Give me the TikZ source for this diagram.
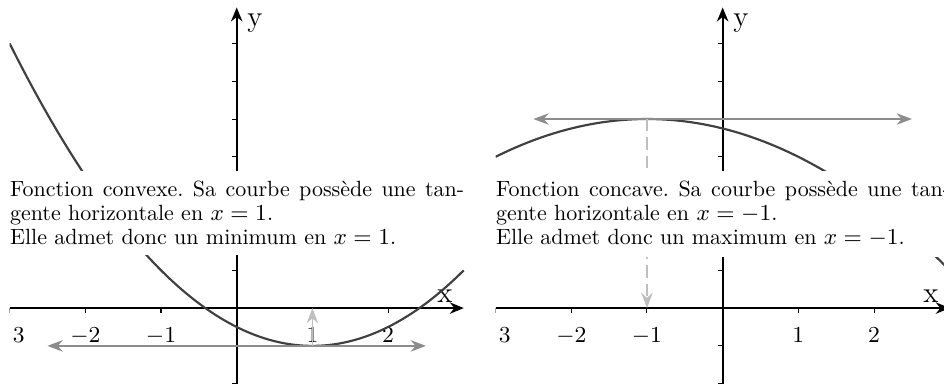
\documentclass[tikz,border=0pt]{standalone}
\usepackage{fontspec}
\newfontfamily\capfont{lmroman10-regular.otf}
\usetikzlibrary{arrows.meta}
\frenchspacing
\tikzset{
  axisline/.style={line width=0.8pt, -{Stealth[length=5.5pt,width=4.5pt]}},
  tickline/.style={line width=0.4pt},
  curveline/.style={line width=0.85pt, draw=black!75},
  tangent/.style={line width=0.6pt, draw=black!45, {Stealth[length=6pt,width=4.5pt]}-{Stealth[length=6pt,width=4.5pt]}},
  guide/.style={line width=0.65pt, draw=black!25, -{Stealth[length=6pt,width=4.5pt]}},
  dashguide/.style={guide, dash pattern=on 4.8pt off 2.4pt},
  ticklabel/.style={anchor=north, inner sep=1pt, yshift=-6.5pt, font=\fontsize{9}{11}\selectfont},
  axislabel/.style={anchor=base, inner sep=0pt, font=\fontsize{11.5}{14}\selectfont},
  caption/.style={anchor=north west, fill=white, inner sep=4pt, xshift=-4pt, text width=178.6pt, align=justify, font=\capfont\fontsize{8.65}{9.55}\selectfont\frenchspacing},
}
\begin{document}
\begin{tikzpicture}[x=29.77pt, y=14.87pt]
\clip (-3.127,-2.09) rectangle (9.344,8.148);
% ---------- left plot: convex ----------
\begin{scope}
  \clip (-3,-2.5) rectangle (3.6,8.5);
  \coordinate (lxs) at (-3,0);
  \coordinate (lxe) at (3,0);
  \coordinate (lys) at (0,-2);
  \coordinate (lye) at (0,7.95);
  \foreach \t in {-3,-2,-1,1,2} \draw[tickline] (\t,0) -- ++(0,-2pt);
  \foreach \t in {-2,-1,1,2,3,4,5,6,7} \draw[tickline] (0,\t) -- ++(-2pt,0);
  \draw[axisline] (lxs) -- (lxe);
  \draw[axisline] (lys) -- (lye);
  \begin{scope}
    \clip ([xshift=0.8pt]-3,-2) rectangle (-2.5,0);
    \node[ticklabel] (ltm3) at (-3,0) {$-3$};
  \end{scope}
  \foreach \t in {-2,-1,1,2} \node[ticklabel] (lt\t) at (\t,0) {$\t$};
  \node[axislabel] (lxl) at (2.75,0.16) {x};
  \node[axislabel] (lyl) at (0.24,7.46) {y};
  \draw[curveline] plot[domain=-3:3, samples=80, smooth] (\x, {0.5*(\x-1)^2-1});
  \coordinate (lta) at (-2.5,-1);
  \coordinate (ltb) at (2.5,-1);
  \coordinate (lmin) at (1,-1);
  \coordinate (lax) at (1,0);
  \draw[tangent] (lta) -- (ltb);
  \draw[guide] (lmin) -- (lax);
  \node[caption] (lcap) at (-3,3.651) {Fonction convexe. Sa courbe possède une tan-\linebreak gente horizontale en $x = 1$.\newline Elle admet donc un minimum en $x = 1$.};
\end{scope}
% ---------- right plot: concave ----------
\begin{scope}[shift={(6.42,0)}]
  \clip (-3,-2.5) rectangle (3.6,8.5);
  \coordinate (rxs) at (-3,0);
  \coordinate (rxe) at (3,0);
  \coordinate (rys) at (0,-2);
  \coordinate (rye) at (0,7.95);
  \foreach \t in {-3,-2,-1,1,2} \draw[tickline] (\t,0) -- ++(0,-2pt);
  \foreach \t in {-2,-1,1,2,3,4,5,6,7} \draw[tickline] (0,\t) -- ++(-2pt,0);
  \draw[axisline] (rxs) -- (rxe);
  \draw[axisline] (rys) -- (rye);
  \begin{scope}
    \clip ([xshift=0.8pt]-3,-2) rectangle (-2.5,0);
    \node[ticklabel] (rtm3) at (-3,0) {$-3$};
  \end{scope}
  \foreach \t in {-2,-1,1,2} \node[ticklabel] (rt\t) at (\t,0) {$\t$};
  \node[axislabel] (rxl) at (2.75,0.16) {x};
  \node[axislabel] (ryl) at (0.24,7.46) {y};
  \draw[curveline] plot[domain=-3:3, samples=80, smooth] (\x, {5-0.25*(\x+1)^2});
  \coordinate (rta) at (-2.5,5);
  \coordinate (rtb) at (2.5,5);
  \coordinate (rmax) at (-1,5);
  \coordinate (rax) at (-1,0);
  \draw[tangent] (rta) -- (rtb);
  \draw[dashguide] (rmax) -- (rax);
  \node[caption] (rcap) at (-3,3.651) {Fonction concave. Sa courbe possède une tan-\linebreak gente horizontale en $x = -1$.\newline Elle admet donc un maximum en $x = -1$.};
\end{scope}
\end{tikzpicture}
\end{document}
